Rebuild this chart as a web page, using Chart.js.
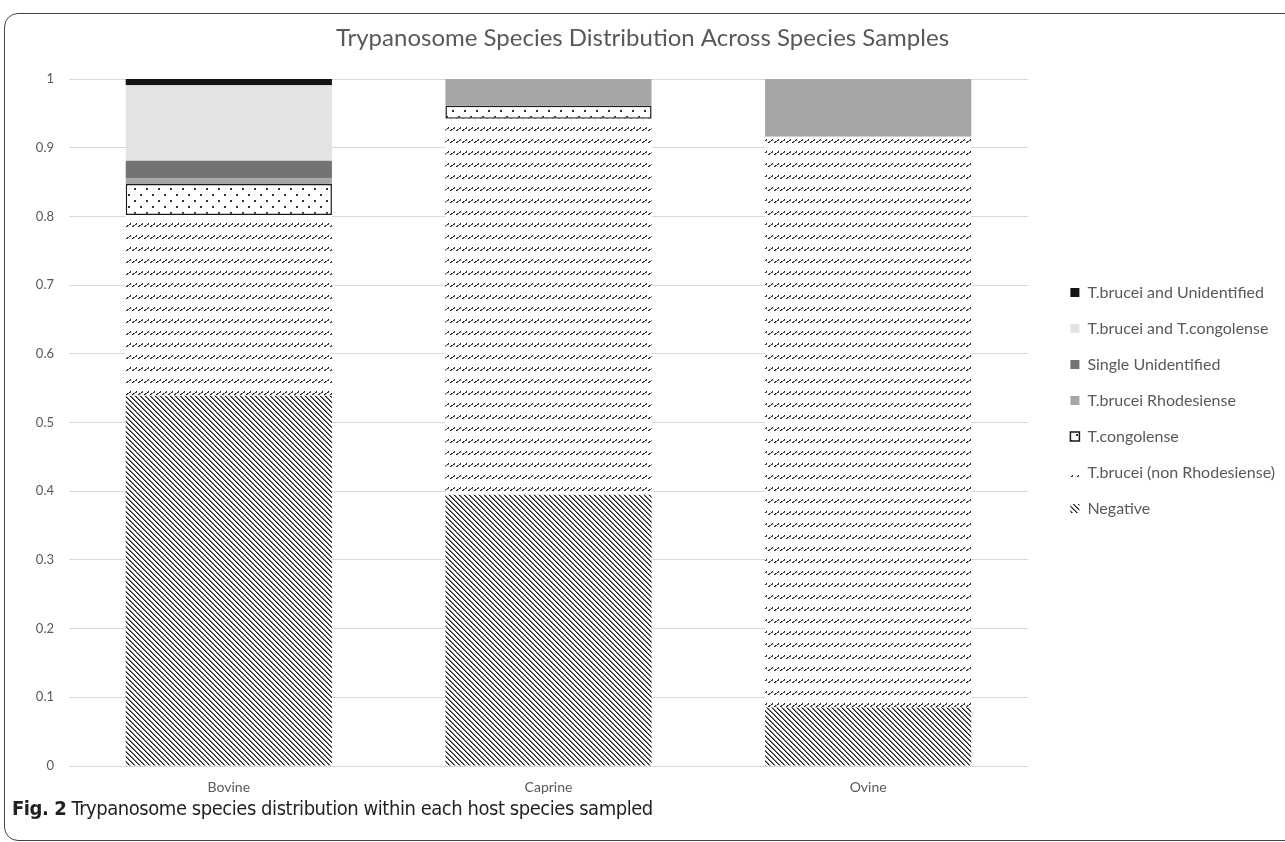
<!DOCTYPE html>
<html>
<head>
<meta charset="utf-8">
<script src="https://cdn.jsdelivr.net/npm/chart.js@4"></script>
<style>
  body { margin: 0; background: #fff; width: 1285px; height: 842px; overflow: hidden; position: relative; }
  .frame { position: absolute; left: 4px; top: 13px; width: 1400px; height: 826px;
           border: 1.5px solid #444; border-radius: 14px 0 0 14px; }
  #wrap { position: absolute; left: 0; top: 6px; width: 1285px; height: 794px; }
  .caption { position: absolute; left: 12px; top: 796px; font-family: "Liberation Sans Narrow", "DejaVu Sans Condensed", sans-serif;
             font-size: 20px; letter-spacing: -0.45px; color: #231f20; white-space: nowrap; }
  .caption b { font-weight: bold; }
</style>
</head>
<body>
<div class="frame"></div>
<div id="wrap"><canvas id="myChart"></canvas></div>
<div class="caption"><b>Fig. 2</b> Trypanosome species distribution within each host species sampled</div>
<script>
// host species on the x axis
const hosts = ['Bovine', 'Caprine', 'Ovine'];

// share of samples per result
const negative = [0.539, 0.395, 0.085];
const bruceiNonRhodesiense = [0.263, 0.547, 0.831];
const congolense = [0.045, 0.019, null];
const bruceiRhodesiense = [0.008, 0.039, 0.084];
const singleUnidentified = [0.026, null, null];
const bruceiAndCongolense = [0.110, null, null];
const bruceiAndUnidentified = [0.009, null, null];

// Excel style pattern fills
function makePattern(w, h, draw) {
  const c = document.createElement('canvas');
  c.width = w;
  c.height = h;
  const g = c.getContext('2d');
  g.fillStyle = '#fff';
  g.fillRect(0, 0, w, h);
  draw(g);
  return g.createPattern(c, 'repeat');
}

const negativeFill = makePattern(5, 5, g => {
  for (let y = 0; y < 5; y++) {
    g.fillStyle = '#1e1e1e';
    g.fillRect(y % 5, y, 1, 1);
    g.fillStyle = '#7a7a7a';
    g.fillRect((y + 1) % 5, y, 1, 1);
  }
});

const wavyFill = makePattern(6, 12, g => {
  g.fillStyle = '#1e1e1e';
  g.fillRect(0, 4, 1, 1);
  g.fillRect(1, 3, 1, 1);
  g.fillRect(3, 2, 1, 1);
  g.fillRect(4, 1, 1, 1);
  g.fillStyle = '#666';
  g.fillRect(2, 3, 1, 1);
  g.fillRect(4, 2, 1, 1);
  g.fillRect(1, 4, 1, 1);
});

const dotFill = makePattern(12, 12, g => {
  g.fillStyle = '#333';
  g.fillRect(2, 2, 2, 2);
  g.fillRect(8, 8, 2, 2);
});

const data = {
  labels: hosts,
  datasets: [
    { label: 'Negative', data: negative, backgroundColor: negativeFill, borderWidth: 0 },
    { label: 'T.brucei (non Rhodesiense)', data: bruceiNonRhodesiense, backgroundColor: wavyFill, borderWidth: 0 },
    { label: 'T.congolense', data: congolense, backgroundColor: dotFill,
      borderColor: '#1a1a1a', borderWidth: 1.5, borderSkipped: false },
    { label: 'T.brucei Rhodesiense', data: bruceiRhodesiense, backgroundColor: '#a6a6a6', borderWidth: 0 },
    { label: 'Single Unidentified', data: singleUnidentified, backgroundColor: '#737373', borderWidth: 0 },
    { label: 'T.brucei and T.congolense', data: bruceiAndCongolense, backgroundColor: '#e3e3e3', borderWidth: 0 },
    { label: 'T.brucei and Unidentified', data: bruceiAndUnidentified, backgroundColor: '#141414', borderWidth: 0 }
  ].map(d => Object.assign({ yAxisID: 'y', categoryPercentage: 1, barPercentage: 0.645 }, d))
};

const config = {
  type: 'bar',
  data: data,
  options: {
    responsive: true,
    maintainAspectRatio: false,
    animation: false,
    layout: { padding: { left: 0, right: 0, top: 0, bottom: 5 } },
    plugins: {
      title: {
        display: true,
        text: 'Trypanosome Species Distribution Across Species Samples',
        color: '#595959',
        font: { family: 'Lato', size: 24, weight: 'normal' },
        padding: { top: 17.6, bottom: 26.6 }
      },
      legend: {
        position: 'right',
        reverse: true,
        maxWidth: 320,
        labels: {
          boxWidth: 9,
          boxHeight: 9,
          padding: 20,
          color: '#595959',
          font: { family: 'Lato', size: 16 }
        }
      },
      tooltip: { enabled: false }
    },
    scales: {
      x: {
        stacked: true,
        grid: { display: false, drawTicks: false },
        border: { display: false },
        ticks: { color: '#595959', font: { family: 'Lato', size: 14 }, padding: 13 },
        afterFit: s => { s.height = 29; }
      },
      y: {
        stacked: true,
        min: 0,
        max: 1,
        ticks: {
          stepSize: 0.1,
          color: '#595959',
          font: { family: 'Lato', size: 13 },
          padding: 15,
          callback: v => String(Math.round(v * 10) / 10)
        },
        grid: { color: '#d9d9d9', drawTicks: false },
        border: { display: false },
        afterFit: s => { s.width = 69; }
      },
      // spacer between plot area and legend
      yPad: {
        position: 'right',
        display: true,
        grid: { display: false },
        border: { display: false },
        ticks: { display: false },
        afterFit: s => { s.width = Math.max(0, s.chart.width - s.chart.legend.width - 1028); }
      }
    }
  }
};

Promise.all([
  document.fonts.load('24px Lato'),
  document.fonts.load('16px Lato'),
  document.fonts.load('13px Lato')
]).catch(() => {}).then(() => {
  new Chart(document.getElementById('myChart'), config);
});
</script>
</body>
</html>
